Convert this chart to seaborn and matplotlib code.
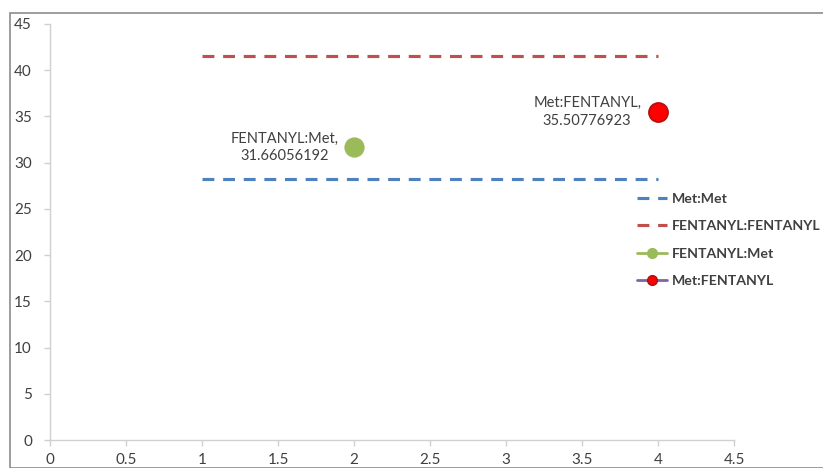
import matplotlib
matplotlib.use("Agg")
import matplotlib.pyplot as plt
from matplotlib.lines import Line2D
from matplotlib.patches import Rectangle
import seaborn as sns
import pandas as pd

# Series values
line_x = [1, 4]
met_met = [28.25, 28.25]
fent_fent = [41.5, 41.5]
fent_met_x = [2]
fent_met_y = [31.66056192]
met_fent_x = [4]
met_fent_y = [35.50776923]

series_names = ["Met:Met", "FENTANYL:FENTANYL", "FENTANYL:Met", "Met:FENTANYL"]
x_ticks = [0, 0.5, 1, 1.5, 2, 2.5, 3, 3.5, 4, 4.5]
x_tick_labels = ["0", "0.5", "1", "1.5", "2", "2.5", "3", "3.5", "4", "4.5"]
y_ticks = [0, 5, 10, 15, 20, 25, 30, 35, 40, 45]

sns.set_theme(style="white")
plt.rcParams["font.family"] = ["Lato", "DejaVu Sans"]

text_col = "#404040"
axis_col = "#d0d0d0"
blue = "#4F81BD"
red = "#C0504D"
green = "#9BBB59"
purple = "#8064A2"
pt_red = "#FF0000"

fig = plt.figure(figsize=(8.23, 4.68), dpi=100)
ax = fig.add_axes([50 / 823, 28 / 468, 684 / 823, 416 / 468])

# outer chart border
fig.patches.append(Rectangle((9.5 / 823, 0), 1.0, (468 - 12.5) / 468,
                             transform=fig.transFigure, fill=False,
                             edgecolor="#8c8c8c", linewidth=1.2, zorder=0))

df_lines = pd.DataFrame({
    "x": line_x * 2,
    "y": met_met + fent_fent,
    "series": [series_names[0]] * 2 + [series_names[1]] * 2,
})
dash = (3.8, 2.8)
sns.lineplot(data=df_lines, x="x", y="y", hue="series",
             palette={series_names[0]: blue, series_names[1]: red},
             style="series", dashes={series_names[0]: dash, series_names[1]: dash},
             linewidth=2.25, legend=False, ax=ax)

df_g = pd.DataFrame({"x": fent_met_x, "y": fent_met_y})
sns.scatterplot(data=df_g, x="x", y="y", color=green, s=190,
                edgecolor=green, linewidth=0.8, ax=ax, zorder=5)
df_r = pd.DataFrame({"x": met_fent_x, "y": met_fent_y})
sns.scatterplot(data=df_r, x="x", y="y", color=pt_red, s=190,
                edgecolor="#B01010", linewidth=1.2, ax=ax, zorder=5)

# data labels
lab_fs = 10.5
ax.annotate(f"{series_names[2]},\n{fent_met_y[0]:.8f}", (fent_met_x[0], fent_met_y[0]),
            xytext=(-50, 0), textcoords="offset points", ha="center", va="center",
            fontsize=lab_fs, color=text_col, linespacing=1.35)
ax.annotate(f"{series_names[3]},\n{met_fent_y[0]:.8f}", (met_fent_x[0], met_fent_y[0]),
            xytext=(-51, 0), textcoords="offset points", ha="center", va="center",
            fontsize=lab_fs, color=text_col, linespacing=1.35)

ax.set_xlim(0, 4.5)
ax.set_ylim(0, 45)
ax.set_xticks(x_ticks)
ax.set_xticklabels(x_tick_labels)
ax.set_yticks(y_ticks)
ax.set_xlabel("")
ax.set_ylabel("")
for s in ["top", "right"]:
    ax.spines[s].set_visible(False)
for s in ["left", "bottom"]:
    ax.spines[s].set_color(axis_col)
    ax.spines[s].set_linewidth(1.0)
ax.tick_params(axis="both", which="major", direction="out", length=4, width=1,
               color=axis_col, labelcolor=text_col, labelsize=11,
               bottom=True, left=True)
ax.tick_params(axis="x", pad=5)
ax.tick_params(axis="y", pad=9)

handles = [
    Line2D([], [], color=blue, linewidth=2.25, dashes=dash),
    Line2D([], [], color=red, linewidth=2.25, dashes=dash),
    Line2D([], [], color=green, linewidth=2, marker="o", markersize=7,
           markerfacecolor=green, markeredgecolor=green),
    Line2D([], [], color=purple, linewidth=2, marker="o", markersize=7,
           markerfacecolor=pt_red, markeredgecolor="#B01010"),
]
leg = ax.legend(handles, series_names, loc="upper left",
                bbox_to_anchor=(587 / 684, (440 - 193) / 416), frameon=False,
                borderaxespad=0, borderpad=0,
                handlelength=2.15, handletextpad=0.3, labelspacing=1.08,
                prop={"weight": "bold", "size": 10.2})
for t in leg.get_texts():
    t.set_color(text_col)

fig.savefig("out.png", dpi=100)
